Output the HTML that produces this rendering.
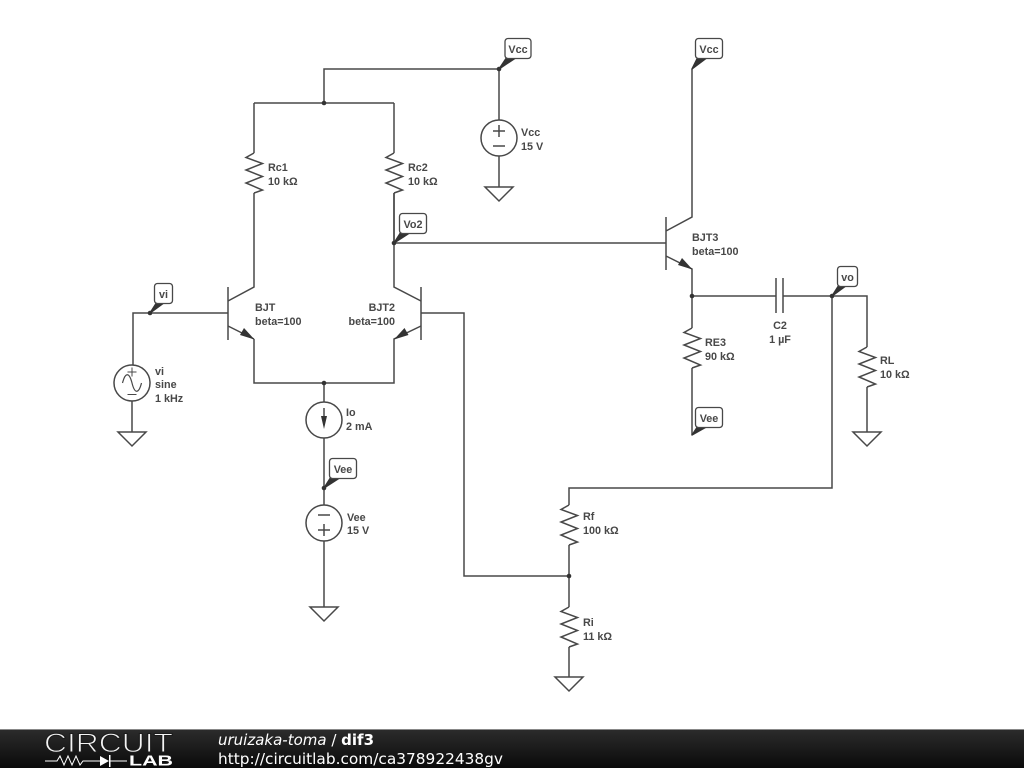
<!DOCTYPE html>
<html>
<head>
<meta charset="utf-8">
<style>
html,body{margin:0;padding:0;background:#fff;width:1024px;height:768px;overflow:hidden}
svg{display:block}
.w{fill:none;stroke:#484848;stroke-width:1.5}
.l{font-family:"Liberation Sans",sans-serif;font-weight:bold;font-size:10.8px;fill:#484848}
.t{font-family:"Liberation Sans",sans-serif;font-weight:bold;font-size:10.8px;fill:#484848;text-anchor:middle}
.b{fill:#fff;stroke:#484848;stroke-width:1.3}
.d{fill:#333}
.p{fill:#333;stroke:#333;stroke-width:1.4;stroke-linejoin:round}
.f{font-family:"DejaVu Sans",sans-serif;font-size:15px;fill:#fff}
</style>
</head>
<body>
<svg width="1024" height="768" viewBox="0 0 1024 768" xmlns="http://www.w3.org/2000/svg">
<defs>
<linearGradient id="g" x1="0" y1="0" x2="0" y2="1"><stop offset="0" stop-color="#2c2c2c"/><stop offset="1" stop-color="#0a0a0a"/></linearGradient>
<polyline id="r" class="w" points="0,0 -8,4.500 8.500,10.500 -8,17 8.500,23.500 -8,30 8.500,37 0,40"/>
<polygon id="gnd" class="w" points="-14,0 14,0 0,14"/>
</defs>

<!-- wires -->
<path class="w" d="M324 103V69H499M254 103H394M254 103V153M394 103V153M254 193V287L228 301M394 193V287L421 301M254 339L228 326M254 339V383H394V339L421 326"/>
<path class="w" d="M228 287V340M421 287V340M133 365V313H228M421 313H464V576H569"/>
<path class="w" d="M499 69V120M499 156V187M132 401V432M324 383V402M324 438V505M324 541V607"/>
<path class="w" d="M394 193V243H666M666 217V270M692 69V217L666 231M666 256L692 269V328M692 296H776M776 278V313M783 278V313M783 296H867V347M832 296V488H569V505M569 545V607M569 647V677M692 368V435M867 387V432"/>

<!-- resistors -->
<use href="#r" x="254" y="153"/>
<use href="#r" x="394" y="153"/>
<use href="#r" x="692" y="328"/>
<use href="#r" x="867" y="347"/>
<use href="#r" x="569" y="505"/>
<use href="#r" x="569" y="607"/>

<!-- grounds -->
<use href="#gnd" x="132" y="432"/>
<use href="#gnd" x="499" y="187"/>
<use href="#gnd" x="324" y="607"/>
<use href="#gnd" x="569" y="677"/>
<use href="#gnd" x="867" y="432"/>

<!-- arrowheads -->
<polygon class="d" points="254.500,339.500 240,335 244,328"/>
<polygon class="d" points="394,339.500 408.500,335 404.500,328"/>
<polygon class="d" points="692.500,269.500 678,265 682,258"/>

<!-- sources -->
<circle class="w" cx="132" cy="383" r="18"/>
<path class="w" style="stroke-width:1.2" d="M122.500 383C125 373 129 371 132 383C135 395 139 393 141.500 383"/>
<path class="w" style="stroke-width:1" d="M127.500 372H136.500M132 367.500V376.500M127.500 394.500H136.500"/>
<circle class="w" cx="499" cy="138" r="18"/>
<path class="w" d="M493 131H505M499 125V137M493 146H505"/>
<circle class="w" cx="324" cy="420" r="18"/>
<path class="w" d="M324 408V420"/>
<polygon class="d" points="321,416 327,416 324,429"/>
<circle class="w" cx="324" cy="523" r="18"/>
<path class="w" d="M318 515H330M318 530H330M324 524V536"/>

<!-- dots -->
<circle class="d" cx="324" cy="103" r="2.300"/>
<circle class="d" cx="499" cy="69" r="2.300"/>
<circle class="d" cx="150" cy="313" r="2.300"/>
<circle class="d" cx="324" cy="383" r="2.300"/>
<circle class="d" cx="324" cy="488" r="2.300"/>
<circle class="d" cx="394" cy="243" r="2.300"/>
<circle class="d" cx="692" cy="296" r="2.300"/>
<circle class="d" cx="832" cy="296" r="2.300"/>
<circle class="d" cx="569" cy="576" r="2.300"/>

<!-- tags -->
<polygon class="p" points="150,313 157,302 165,302"/>
<rect class="b" x="154.500" y="283.500" width="18" height="20" rx="3"/>
<text class="t" x="163.500" y="298">vi</text>

<polygon class="p" points="499,69 507,57 517,57"/>
<rect class="b" x="505" y="38.500" width="26" height="20" rx="3"/>
<text class="t" x="518" y="53">Vcc</text>

<polygon class="p" points="692,69 698,57 708,57"/>
<rect class="b" x="695.500" y="38.500" width="27" height="20" rx="3"/>
<text class="t" x="709" y="53">Vcc</text>

<polygon class="p" points="394,243 401,232 411,232"/>
<rect class="b" x="399.500" y="213.500" width="27" height="20" rx="3"/>
<text class="t" x="413" y="228">Vo2</text>

<polygon class="p" points="324,488 331,477 341,477"/>
<rect class="b" x="329.500" y="458.500" width="27" height="20" rx="3"/>
<text class="t" x="343" y="473">Vee</text>

<polygon class="p" points="692,435 698,426 708,426"/>
<rect class="b" x="695.500" y="407.500" width="27" height="20" rx="3"/>
<text class="t" x="709" y="422">Vee</text>

<polygon class="p" points="832,296 839,285 847,285"/>
<rect class="b" x="837.500" y="266.500" width="20" height="20" rx="3"/>
<text class="t" x="847.500" y="281">vo</text>

<!-- labels -->
<text class="l" x="268" y="171">Rc1</text><text class="l" x="268" y="185">10 kΩ</text>
<text class="l" x="408" y="171">Rc2</text><text class="l" x="408" y="185">10 kΩ</text>
<text class="l" x="521" y="136">Vcc</text><text class="l" x="521" y="150">15 V</text>
<text class="l" x="255" y="311">BJT</text><text class="l" x="255" y="325">beta=100</text>
<text class="l" x="395" y="311" text-anchor="end">BJT2</text><text class="l" x="395" y="325" text-anchor="end">beta=100</text>
<text class="l" x="692" y="241">BJT3</text><text class="l" x="692" y="255">beta=100</text>
<text class="l" x="155" y="375">vi</text><text class="l" x="155" y="388">sine</text><text class="l" x="155" y="402">1 kHz</text>
<text class="l" x="346" y="416">Io</text><text class="l" x="346" y="430">2 mA</text>
<text class="l" x="347" y="521">Vee</text><text class="l" x="347" y="534">15 V</text>
<text class="l" x="705" y="346">RE3</text><text class="l" x="705" y="360">90 kΩ</text>
<text class="t" x="780" y="329">C2</text><text class="t" x="780" y="343">1 µF</text>
<text class="l" x="880" y="364">RL</text><text class="l" x="880" y="378">10 kΩ</text>
<text class="l" x="583" y="520">Rf</text><text class="l" x="583" y="534">100 kΩ</text>
<text class="l" x="583" y="626">Ri</text><text class="l" x="583" y="640">11 kΩ</text>

<!-- footer -->
<rect x="0" y="729" width="1024" height="39" fill="url(#g)"/>
<rect x="0" y="729" width="1024" height="1" fill="#888"/>
<text x="44" y="752" font-family="Liberation Sans, sans-serif" font-size="27" fill="#f4f4f4" stroke="#1c1c1c" stroke-width="1" textLength="129" lengthAdjust="spacingAndGlyphs">CIRCUIT</text>
<path d="M45 761H57L60 756 64 765 68 756 72 765 76 756 80 765 83 761H100M110 761H127" fill="none" stroke="#fff" stroke-width="1"/>
<polygon points="100,756 100,766 109,761" fill="#fff"/>
<rect x="109" y="755" width="1.500" height="12" fill="#fff"/>
<text x="129" y="765.500" font-family="Liberation Sans, sans-serif" font-weight="bold" font-size="15" fill="#fff" textLength="44" lengthAdjust="spacingAndGlyphs">LAB</text>
<text class="f" x="218" y="745"><tspan font-style="italic">uruizaka-toma</tspan> / <tspan font-weight="bold">dif3</tspan></text>
<text class="f" x="218" y="764" textLength="285" lengthAdjust="spacingAndGlyphs">http://circuitlab.com/ca378922438gv</text>
</svg>
</body>
</html>
